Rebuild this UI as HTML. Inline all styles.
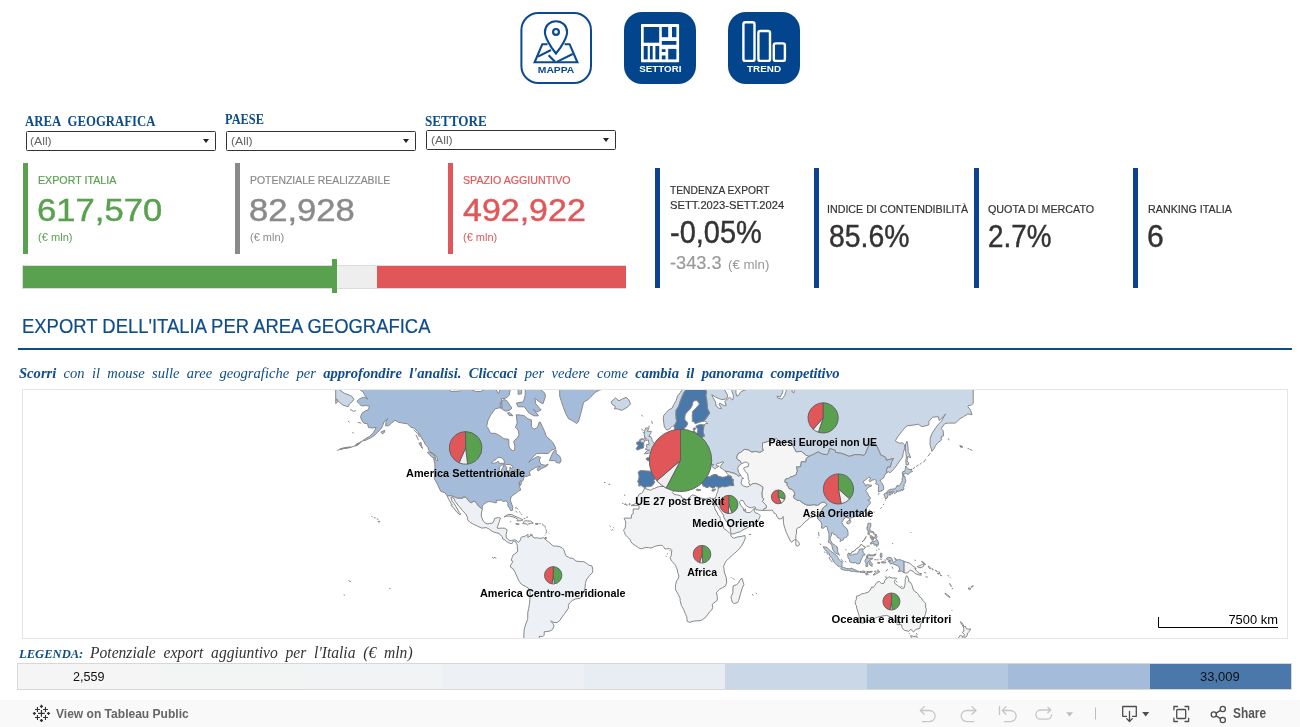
<!DOCTYPE html>
<html lang="it">
<head>
<meta charset="utf-8">
<title>Export dell'Italia per area geografica</title>
<style>
html,body{margin:0;padding:0;background:#fff;}
body{width:1300px;height:727px;overflow:hidden;position:relative;font-family:'Liberation Sans',Arial,sans-serif;}
#page{position:absolute;left:0;top:0;width:1300px;height:727px;overflow:hidden;background:#fff;}
.abs{position:absolute;}
.tx{position:absolute;z-index:5;white-space:nowrap;transform-origin:0 50%;display:block;margin:0;padding:0;}
.tx b{font-weight:bold;}
.navbtn{position:absolute;top:12px;width:72px;height:72px;}
.sel{position:absolute;width:188px;height:18px;border:1px solid #333;border-radius:1.5px;background:#fff;}
.sel i{position:absolute;right:6px;top:7px;width:0;height:0;border-left:3.5px solid transparent;border-right:3.5px solid transparent;border-top:4px solid #222;}
.vbar{position:absolute;width:5px;}
.prog{position:absolute;left:22px;top:265px;width:604px;height:24px;background:#eeeeee;box-sizing:border-box;border:1px solid #dcdcdc;}
.rule{position:absolute;left:18px;top:348px;width:1274px;height:2px;background:#0f4c8b;}
.mapbox{position:absolute;left:22px;top:389px;width:1264px;height:248px;border:1px solid #e6e6e6;box-sizing:content-box;background:#fff;overflow:hidden;}
.mapsvg{position:absolute;left:0;top:0;}
.legend{position:absolute;left:17px;top:663px;width:1273px;height:25px;border:1px solid #d8d8d8;box-sizing:content-box;display:flex;}
.legend div{flex:1 1 0;height:25px;}
.toolbar{position:absolute;left:0;top:700px;width:1300px;height:27px;background:#f9f9f9;}
</style>
</head>
<body>
<div id="page">

<!-- navigation buttons -->
<nav>
<svg class="navbtn" style="left:520px" viewBox="0 0 72 72">
  <rect x="1.4" y="1" width="69.6" height="70" rx="17" ry="17" fill="#fff" stroke="#0b4a90" stroke-width="2"/>
  <g fill="none" stroke="#0b4a90" stroke-width="2.1" stroke-linejoin="miter">
    <path d="M27.5,32.2 H22.3 L14.6,50.3 H57.4 L49.6,32.2 H44.6"/>
    <path d="M18,44.6 L31,38 M28.6,43.3 L35,49.8 M36.8,49.9 L52.7,42"/>
    <path fill="#fff" d="M36,41.5 L31.6,35.6 C27.6,29.6 24.9,25 24.9,20.3 C24.9,13.7 29.8,9.2 36,9.2 C42.2,9.2 47.1,13.7 47.1,20.3 C47.1,25 44.4,29.6 40.4,35.6 Z"/>
    <circle cx="36" cy="19.9" r="2.9" stroke-width="2.2"/>
  </g>
  <text x="17.8" y="60.8" textLength="36.5" lengthAdjust="spacingAndGlyphs" font-family="'Liberation Sans',Arial,sans-serif" font-weight="bold" font-size="8.4" fill="#0b4a90">MAPPA</text>
</svg>
<svg class="navbtn" style="left:624px" viewBox="0 0 72 72">
  <rect x="0" y="0" width="72" height="72" rx="18" ry="18" fill="#03458c"/>
  <rect x="17" y="12" width="38.1" height="38.3" rx="1" fill="#fff"/>
  <g fill="#03458c">
    <rect x="19.7" y="15" width="15.5" height="15.7"/>
    <rect x="37.8" y="15" width="6.4" height="10.2"/>
    <rect x="48" y="15" width="4.4" height="10.2"/>
    <rect x="37.8" y="29" width="14.6" height="3.8"/>
    <rect x="19.7" y="34" width="4" height="13.4"/>
    <rect x="25.9" y="34" width="2.8" height="13.4"/>
    <rect x="31.4" y="34" width="3.8" height="13.4"/>
    <rect x="37.8" y="37.2" width="3.7" height="2.8"/>
    <rect x="37.8" y="43.5" width="3.7" height="3.9"/>
    <rect x="44.2" y="36.9" width="8.2" height="10.5"/>
  </g>
  <text x="15.3" y="60.3" textLength="42.1" lengthAdjust="spacingAndGlyphs" font-family="'Liberation Sans',Arial,sans-serif" font-weight="bold" font-size="9.3" fill="#fff">SETTORI</text>
</svg>
<svg class="navbtn" style="left:728px" viewBox="0 0 72 72">
  <rect x="0" y="0" width="72" height="72" rx="18" ry="18" fill="#03458c"/>
  <g fill="none" stroke="#fff" stroke-width="2.4">
    <rect x="15.4" y="10.3" width="11.1" height="38.6" rx="2"/>
    <rect x="30.4" y="19" width="11.6" height="29.9" rx="2"/>
    <rect x="45.8" y="31.4" width="11.1" height="17.5" rx="2"/>
  </g>
  <text x="19.1" y="60.4" textLength="33.9" lengthAdjust="spacingAndGlyphs" font-family="'Liberation Sans',Arial,sans-serif" font-weight="bold" font-size="9.2" fill="#fff">TREND</text>
</svg>
</nav>

<!-- filters -->
<div class="sel" style="left:26px;top:131px"><i></i></div>
<div class="sel" style="left:226px;top:131px"><i></i></div>
<div class="sel" style="left:426px;top:130px"><i></i></div>

<!-- KPI accent bars -->
<div class="vbar" style="left:23px;top:163px;height:91px;background:#59a14f"></div>
<div class="vbar" style="left:235px;top:163px;height:91px;background:#8a8a8a"></div>
<div class="vbar" style="left:448px;top:163px;height:91px;background:#e15759"></div>
<div class="vbar" style="left:655px;top:168px;height:120px;background:#0b4390"></div>
<div class="vbar" style="left:814px;top:168px;height:120px;background:#0b4390"></div>
<div class="vbar" style="left:974px;top:168px;height:120px;background:#0b4390"></div>
<div class="vbar" style="left:1133px;top:168px;height:120px;background:#0b4390"></div>

<!-- progress bar -->
<div class="prog">
  <div class="abs" style="left:0;top:0;width:311px;height:22px;background:#59a14f"></div>
  <div class="abs" style="left:354px;top:0;width:248.5px;height:22px;background:#e15759"></div>
</div>
<div class="abs" style="left:332px;top:259px;width:5px;height:34px;background:#59a14f"></div>

<div class="rule"></div>

<span class="tx" style="left:25.30px;top:113.0px;font-family:'Liberation Serif', 'Times New Roman', serif;font-size:13.70px;line-height:17px;transform:scaleX(0.9326);font-weight:bold;color:#0f4c8b">AREA&nbsp; GEOGRAFICA</span>
<span class="tx" style="left:225.40px;top:111.0px;font-family:'Liberation Serif', 'Times New Roman', serif;font-size:13.70px;line-height:17px;transform:scaleX(0.9047);font-weight:bold;color:#0f4c8b">PAESE</span>
<span class="tx" style="left:425.10px;top:113.0px;font-family:'Liberation Serif', 'Times New Roman', serif;font-size:13.70px;line-height:17px;transform:scaleX(0.9595);font-weight:bold;color:#0f4c8b">SETTORE</span>
<span class="tx" style="left:30.30px;top:134.0px;font-family:'Liberation Sans', Arial, sans-serif;font-size:11.00px;line-height:14px;transform:scaleX(1.1093);color:#666">(All)</span>
<span class="tx" style="left:230.60px;top:134.0px;font-family:'Liberation Sans', Arial, sans-serif;font-size:11.00px;line-height:14px;transform:scaleX(1.1093);color:#666">(All)</span>
<span class="tx" style="left:430.60px;top:133.0px;font-family:'Liberation Sans', Arial, sans-serif;font-size:11.00px;line-height:14px;transform:scaleX(1.1093);color:#666">(All)</span>
<span class="tx" style="left:37.60px;top:172.5px;font-family:'Liberation Sans', Arial, sans-serif;font-size:11.60px;line-height:14px;transform:scaleX(0.9205);-webkit-text-stroke:0.2px;color:#59a14f">EXPORT ITALIA</span>
<span class="tx" style="left:36.80px;top:191.0px;font-family:'Liberation Sans', Arial, sans-serif;font-size:31.30px;line-height:39px;transform:scaleX(1.1069);-webkit-text-stroke:0.45px;color:#59a14f">617,570</span>
<span class="tx" style="left:37.60px;top:230.0px;font-family:'Liberation Sans', Arial, sans-serif;font-size:11.00px;line-height:14px;transform:scaleX(1.0078);color:#59a14f">(€ mln)</span>
<span class="tx" style="left:249.60px;top:172.5px;font-family:'Liberation Sans', Arial, sans-serif;font-size:11.60px;line-height:14px;transform:scaleX(0.8992);-webkit-text-stroke:0.2px;color:#8a8a8a">POTENZIALE REALIZZABILE</span>
<span class="tx" style="left:249.40px;top:191.0px;font-family:'Liberation Sans', Arial, sans-serif;font-size:31.30px;line-height:39px;transform:scaleX(1.1057);-webkit-text-stroke:0.45px;color:#8a8a8a">82,928</span>
<span class="tx" style="left:249.60px;top:230.0px;font-family:'Liberation Sans', Arial, sans-serif;font-size:11.00px;line-height:14px;transform:scaleX(0.9990);color:#8a8a8a">(€ mln)</span>
<span class="tx" style="left:462.50px;top:172.5px;font-family:'Liberation Sans', Arial, sans-serif;font-size:11.60px;line-height:14px;transform:scaleX(0.9194);-webkit-text-stroke:0.2px;color:#e15759">SPAZIO AGGIUNTIVO</span>
<span class="tx" style="left:462.50px;top:191.0px;font-family:'Liberation Sans', Arial, sans-serif;font-size:31.30px;line-height:39px;transform:scaleX(1.0854);-webkit-text-stroke:0.45px;color:#e15759">492,922</span>
<span class="tx" style="left:462.50px;top:230.0px;font-family:'Liberation Sans', Arial, sans-serif;font-size:11.00px;line-height:14px;transform:scaleX(0.9990);color:#e15759">(€ mln)</span>
<span class="tx" style="left:669.80px;top:182.5px;font-family:'Liberation Sans', Arial, sans-serif;font-size:11.80px;line-height:15px;transform:scaleX(0.8690);-webkit-text-stroke:0.2px;color:#333333">TENDENZA EXPORT</span>
<span class="tx" style="left:669.80px;top:197.5px;font-family:'Liberation Sans', Arial, sans-serif;font-size:11.80px;line-height:15px;transform:scaleX(0.9465);-webkit-text-stroke:0.2px;color:#333333">SETT.2023-SETT.2024</span>
<span class="tx" style="left:669.60px;top:212.0px;font-family:'Liberation Sans', Arial, sans-serif;font-size:32.00px;line-height:40px;transform:scaleX(0.9056);-webkit-text-stroke:0.45px;color:#333333">-0,05%</span>
<span class="tx" style="left:670.30px;top:251.0px;font-family:'Liberation Sans', Arial, sans-serif;font-size:18.50px;line-height:23px;transform:scaleX(0.9815);-webkit-text-stroke:0.2px;color:#999">-343.3</span>
<span class="tx" style="left:728.10px;top:256.5px;font-family:'Liberation Sans', Arial, sans-serif;font-size:13.00px;line-height:16px;transform:scaleX(1.0231);color:#999">(€ mln)</span>
<span class="tx" style="left:827.00px;top:201.5px;font-family:'Liberation Sans', Arial, sans-serif;font-size:11.80px;line-height:15px;transform:scaleX(0.9052);-webkit-text-stroke:0.2px;color:#333333">INDICE DI CONTENDIBILITÀ</span>
<span class="tx" style="left:829.10px;top:217.0px;font-family:'Liberation Sans', Arial, sans-serif;font-size:31.30px;line-height:39px;transform:scaleX(0.9063);-webkit-text-stroke:0.45px;color:#333333">85.6%</span>
<span class="tx" style="left:988.30px;top:201.5px;font-family:'Liberation Sans', Arial, sans-serif;font-size:11.80px;line-height:15px;transform:scaleX(0.9094);-webkit-text-stroke:0.2px;color:#333333">QUOTA DI MERCATO</span>
<span class="tx" style="left:988.00px;top:217.0px;font-family:'Liberation Sans', Arial, sans-serif;font-size:31.30px;line-height:39px;transform:scaleX(0.8890);-webkit-text-stroke:0.45px;color:#333333">2.7%</span>
<span class="tx" style="left:1147.70px;top:201.5px;font-family:'Liberation Sans', Arial, sans-serif;font-size:11.80px;line-height:15px;transform:scaleX(0.9087);-webkit-text-stroke:0.2px;color:#333333">RANKING ITALIA</span>
<span class="tx" style="left:1147.10px;top:217.0px;font-family:'Liberation Sans', Arial, sans-serif;font-size:31.30px;line-height:39px;transform:scaleX(0.9606);-webkit-text-stroke:0.45px;color:#333333">6</span>
<span class="tx" style="left:21.80px;top:312.5px;font-family:'Liberation Sans', Arial, sans-serif;font-size:20.80px;line-height:26px;transform:scaleX(0.8870);-webkit-text-stroke:0.2px;color:#0f4c8b">EXPORT DELL'ITALIA PER AREA GEOGRAFICA</span>
<span class="tx" style="left:18.50px;top:363.0px;font-family:'Liberation Serif', 'Times New Roman', serif;font-size:15.40px;line-height:19px;transform:scaleX(0.9481);font-style:italic;color:#0f4c8b"><b>Scorri</b>&nbsp; con&nbsp; il&nbsp; mouse&nbsp; sulle&nbsp; aree&nbsp; geografiche&nbsp; per&nbsp; <b>approfondire&nbsp; l'analisi.&nbsp; Cliccaci</b>&nbsp; per&nbsp; vedere&nbsp; come&nbsp; <b>cambia&nbsp; il&nbsp; panorama&nbsp; competitivo</b></span>
<span class="tx" style="left:18.50px;top:645.5px;font-family:'Liberation Serif', 'Times New Roman', serif;font-size:13.20px;line-height:16px;transform:scaleX(0.9539);font-style:italic;font-weight:bold;color:#0f4c8b">LEGENDA:</span>
<span class="tx" style="left:89.50px;top:642.5px;font-family:'Liberation Serif', 'Times New Roman', serif;font-size:16.00px;line-height:20px;transform:scaleX(0.9735);font-style:italic;color:#333">Potenziale&nbsp; export&nbsp; aggiuntivo&nbsp; per&nbsp; l'Italia&nbsp; (€&nbsp; mln)</span>
<span class="tx" style="left:73.30px;top:668.5px;font-family:'Liberation Sans', Arial, sans-serif;font-size:12.80px;line-height:16px;transform:scaleX(0.9834);color:#111">2,559</span>
<span class="tx" style="left:1200.00px;top:668.5px;font-family:'Liberation Sans', Arial, sans-serif;font-size:12.80px;line-height:16px;transform:scaleX(1.0160);color:#111">33,009</span>
<span class="tx" style="left:55.70px;top:705.5px;font-family:'Liberation Sans', Arial, sans-serif;font-size:13.20px;line-height:16px;transform:scaleX(0.9130);color:#666;font-weight:bold;-webkit-text-stroke:0">View on Tableau Public</span>
<span class="tx" style="left:1233.00px;top:705.0px;font-family:'Liberation Sans', Arial, sans-serif;font-size:13.80px;line-height:17px;transform:scaleX(0.8603);color:#555;font-weight:bold">Share</span>

<!-- map -->
<div class="mapbox">
<svg class="mapsvg" width="1264" height="248" viewBox="23 390 1264 248">
<g stroke="#888888" stroke-width="1" stroke-linejoin="round">
<path fill="#cad7e7" d="M704.0,424.9 705.8,423.5 707.9,423.5 706.7,422.4 704.9,421.0 703.7,421.3 705.8,418.8 709.7,413.1 707.6,408.8 707.2,404.7 706.7,399.6 705.8,395.2 706.7,392.0 704.9,388.2 704.9,383.2 709.3,381.7 712.9,383.7 718.2,385.2 724.8,390.1 727.6,395.2 727.1,397.9 725.3,399.2 721.7,399.6 718.2,398.3 715.5,397.0 711.8,394.7 712.9,397.4 715.5,401.8 716.1,406.0 719.1,408.4 721.7,408.4 719.1,404.7 719.6,403.1 721.7,404.3 724.4,405.6 726.2,405.6 724.9,401.4 727.1,399.2 729.7,397.4 731.5,398.8 732.7,400.1 733.3,397.4 733.3,395.2 732.0,391.5 731.1,387.7 734.1,388.2 735.9,390.6 735.9,392.9 736.8,396.1 738.9,395.2 740.3,392.4 743.0,390.6 751.8,387.7 760.7,380.7 831.5,357.7 973.2,369.8 973.2,403.5 970.5,405.6 968.8,405.1 967.9,406.8 970.5,410.0 972.0,414.7 967.9,413.9 963.5,416.6 959.0,419.5 955.5,423.1 948.4,423.1 944.9,423.5 941.3,428.3 943.1,430.7 943.6,435.9 941.3,436.5 941.3,440.2 937.8,442.7 935.5,445.6 934.2,448.5 931.9,451.4 931.6,450.0 930.0,444.2 930.2,438.1 932.1,433.3 934.2,430.0 937.8,424.9 941.3,421.3 944.0,416.6 945.7,413.9 942.2,417.7 939.2,420.6 938.3,416.6 932.5,417.3 928.9,421.3 928.9,424.9 925.4,425.9 921.8,426.6 918.3,424.2 913.0,425.2 908.0,425.6 905.9,426.6 902.4,430.7 897.9,436.5 895.3,440.8 897.0,442.1 899.7,443.3 902.4,442.7 904.5,444.7 904.8,448.0 903.2,452.8 902.7,456.9 899.7,460.9 897.0,464.8 894.4,468.5 890.0,472.7 888.2,471.7 885.7,473.6 886.8,472.2 886.4,469.8 887.8,466.8 890.3,467.0 891.7,461.4 893.5,458.5 890.0,459.3 886.4,460.4 885.5,457.2 880.2,454.7 880.2,453.6 876.7,445.6 873.1,444.2 869.6,444.7 868.2,447.1 866.9,450.0 865.2,454.2 863.1,455.5 861.1,454.7 854.6,454.7 849.2,456.4 843.9,454.2 840.4,453.1 835.6,452.5 835.4,450.5 829.6,448.3 828.5,452.8 827.1,454.7 822.7,454.2 817.9,451.9 813.8,454.2 809.0,456.4 805.9,455.3 801.4,451.4 796.1,451.9 792.4,444.7 789.9,441.8 784.6,443.0 780.2,442.1 776.6,438.7 771.3,440.5 766.0,442.1 762.5,443.0 762.5,447.7 763.4,450.5 759.8,452.5 755.4,451.4 751.8,452.2 748.3,450.0 744.4,449.4 740.7,452.5 738.6,453.1 737.0,456.1 736.8,458.2 737.7,459.6 740.3,460.9 741.6,463.7 741.2,464.2 738.6,466.0 737.7,468.5 738.6,472.2 740.5,475.1 738.6,476.3 736.8,474.8 734.1,473.2 731.5,472.7 728.8,471.7 725.3,471.2 724.8,471.0 722.6,469.0 720.7,468.0 720.0,466.5 721.2,465.5 722.1,463.7 724.0,462.2 722.1,461.9 719.6,463.0 717.0,463.5 716.4,464.2 716.4,465.5 719.1,466.3 717.1,467.3 714.7,468.8 713.8,468.3 712.0,466.3 713.9,464.5 712.0,464.5 710.2,463.2 708.8,463.5 707.0,466.8 704.4,466.0 704.2,462.4 703.1,460.9 701.6,458.8 698.5,460.4 695.0,459.6 693.8,458.5 694.5,456.6 694.6,455.5 697.1,451.7 696.2,448.3 696.8,446.5 696.1,443.0 699.6,441.8 700.1,439.9 701.9,438.7 701.6,437.4 704.4,436.2 703.5,433.3 703.1,431.6ZM335.7,403.5 337.5,402.2 336.6,398.8 338.4,401.4 342.8,405.1 348.1,406.8 349.5,403.9 352.5,401.4 353.9,399.2 351.6,396.1 348.1,394.7 344.6,393.4 339.2,389.6 335.7,386.7 335.7,369.8ZM907.1,441.4 908.0,447.1 908.2,451.4 910.7,457.7 907.7,456.4 907.0,460.9 908.6,462.7 908.4,464.8 906.1,465.0 905.9,460.9 906.3,456.9 905.9,452.8 905.4,448.5 905.5,444.2ZM674.1,426.3 673.0,425.6 671.3,427.3 668.6,429.7 666.8,430.0 664.4,426.9 663.7,422.4 663.3,417.7 663.7,415.4 666.0,412.8 668.6,410.0 672.2,408.0 673.9,404.3 676.2,400.5 677.5,396.1 680.1,392.9 682.8,388.2 688.1,380.7 698.7,374.3 709.3,379.1 705.8,384.7 704.9,383.2 699.6,385.7 691.6,384.7 689.9,385.7 686.3,389.1 683.7,392.9 681.9,397.0 680.1,401.8 678.4,406.8 676.1,410.0 675.9,413.9 676.2,418.4 676.6,421.3 675.3,423.8ZM644.4,453.9 648.3,453.3 651.3,452.2 655.0,451.9 656.9,450.8 655.9,450.0 657.5,446.8 655.0,445.6 654.6,443.9 652.3,440.8 651.6,438.1 650.7,436.5 648.8,436.5 650.7,433.3 651.3,431.3 647.7,431.3 647.2,431.3 649.0,428.0 645.6,428.0 644.5,431.6 644.2,434.6 644.7,437.7 644.4,438.7 646.0,437.7 645.6,440.5 648.3,439.9 648.8,442.7 649.1,444.5 646.5,444.7 646.3,446.2 647.2,447.4 645.2,449.1 648.8,450.3 649.7,450.0 647.0,450.8ZM611.1,401.8 615.5,397.9 619.0,400.9 622.6,398.8 626.1,397.4 628.8,399.6 630.5,403.9 627.9,406.8 621.7,410.4 617.3,408.8 614.3,408.8 615.5,406.4 612.0,404.3Z"/>
<path fill="#f5f5f5" d="M741.6,463.7 744.8,462.2 746.5,462.2 748.7,463.5 748.3,466.5 745.1,467.3 743.5,468.3 744.6,470.3 745.3,471.7 747.4,473.4 747.9,475.1 748.1,476.7 748.3,479.3 749.4,481.1 748.7,482.7 749.9,485.2 750.1,485.4 752.7,483.8 755.7,483.4 759.5,485.0 762.8,487.0 762.6,489.8 761.8,493.0 762.3,497.9 763.9,498.9 762.3,501.4 765.5,504.6 766.5,506.6 766.4,507.8 763.9,508.6 763.5,510.5 766.9,510.3 769.6,510.3 772.2,510.1 773.1,511.3 774.0,513.1 775.2,513.6 776.3,514.4 776.6,516.1 778.9,519.0 782.1,518.6 782.5,517.3 783.0,516.3 783.4,518.2 783.4,522.4 784.2,526.1 785.1,528.9 786.4,532.5 787.8,535.6 789.4,538.9 790.6,541.4 791.7,542.3 792.9,540.8 794.5,540.1 795.9,538.3 795.8,535.3 796.6,533.3 796.3,529.8 797.4,528.1 800.2,526.9 802.3,524.8 805.0,521.8 807.6,520.1 808.5,518.6 810.3,517.5 812.1,517.3 814.7,516.1 816.5,515.8 817.0,516.1 817.9,519.0 817.9,518.1 818.4,516.7 819.5,516.1 819.7,513.8 821.3,511.9 822.1,510.0 823.0,508.0 824.8,506.4 826.7,505.4 826.9,504.4 824.8,502.2 821.8,502.4 817.4,505.4 813.8,504.6 811.7,505.0 810.5,505.2 806.7,505.0 803.2,503.2 799.7,500.5 797.9,500.5 795.2,498.9 793.8,497.9 793.5,495.8 794.9,495.4 794.3,492.0 792.2,489.4 789.0,488.5 788.0,486.3 787.1,485.4 787.3,482.7 785.1,482.5 785.0,480.4 785.5,479.1 788.5,478.4 790.4,477.0 793.1,476.3 796.5,474.4 796.5,472.2 797.5,471.7 796.8,468.0 796.3,467.0 800.5,466.8 800.7,466.0 801.4,461.7 805.9,461.9 806.2,458.5 809.0,456.4 805.9,455.3 801.4,451.4 796.1,451.9 792.4,444.7 789.9,441.8 784.6,443.0 780.2,442.1 776.6,438.7 771.3,440.5 766.0,442.1 762.5,443.0 762.5,447.7 763.4,450.5 759.8,452.5 755.4,451.4 751.8,452.2 748.3,450.0 744.4,449.4 740.7,452.5 738.6,453.1 737.0,456.1 736.8,458.2 737.7,459.6 740.3,460.9ZM795.8,539.2 798.2,541.6 799.5,543.7 799.1,545.3 797.2,546.2 796.1,545.7 795.8,543.3 795.8,541.6Z"/>
<path fill="#b4c8e0" d="M885.7,473.6 884.1,476.3 884.1,477.4 881.6,479.3 880.2,480.0 880.2,481.1 881.8,482.7 883.4,486.1 883.8,488.3 883.2,490.0 881.1,490.9 878.5,492.0 878.3,489.4 878.6,486.5 878.6,485.0 876.7,484.3 875.3,483.6 876.3,482.3 876.2,480.4 874.7,479.5 872.3,480.2 869.8,481.8 869.1,480.4 870.8,478.1 868.7,477.2 866.1,479.5 863.1,481.6 864.3,483.6 865.2,484.3 865.2,485.6 867.5,484.7 869.6,485.0 871.7,485.2 871.2,486.3 868.7,487.0 867.5,488.3 865.7,490.5 866.4,491.5 867.8,493.7 868.7,495.8 870.3,497.4 870.1,499.1 867.8,500.3 870.0,501.2 870.5,502.6 869.6,504.4 868.2,505.4 866.9,507.6 866.1,509.2 865.2,510.9 863.6,512.1 861.6,513.8 859.9,515.2 856.9,516.1 855.4,516.3 852.8,517.3 850.1,518.2 849.8,519.9 848.9,517.9 846.6,517.5 845.7,517.7 843.9,518.8 843.0,520.5 841.8,522.4 842.7,524.3 843.9,526.1 846.1,527.8 847.5,529.8 848.0,532.5 848.0,535.3 847.1,536.5 845.3,537.6 843.9,538.1 843.4,539.8 841.3,540.7 840.0,541.4 840.4,539.2 839.5,538.1 837.7,537.8 836.8,536.2 836.7,535.8 835.4,534.9 833.3,534.0 833.1,532.7 832.4,532.5 831.5,532.9 831.5,534.9 830.8,536.7 830.1,538.1 830.3,540.1 831.5,541.6 832.2,543.9 834.2,544.4 835.4,545.7 837.2,547.1 837.7,549.2 837.7,551.9 839.0,554.2 837.7,554.3 835.4,552.8 833.8,551.5 832.8,549.6 832.1,546.9 831.9,545.1 831.0,544.4 829.8,542.8 828.5,542.4 828.5,540.7 829.1,538.9 828.9,536.2 829.1,534.4 828.3,531.6 827.5,528.9 827.3,527.0 826.0,526.1 824.8,527.0 823.2,528.3 821.4,528.0 821.8,525.2 821.4,522.8 820.2,520.9 819.0,520.1 817.9,519.0 817.9,518.1 818.4,516.7 819.5,516.1 819.7,513.8 821.3,511.9 822.1,510.0 823.0,508.0 824.8,506.4 826.7,505.4 826.9,504.4 824.8,502.2 821.8,502.4 817.4,505.4 813.8,504.6 811.7,505.0 810.5,505.2 806.7,505.0 803.2,503.2 799.7,500.5 797.9,500.5 795.2,498.9 793.8,497.9 793.5,495.8 794.9,495.4 794.3,492.0 792.2,489.4 789.0,488.5 788.0,486.3 787.1,485.4 787.3,482.7 785.1,482.5 785.0,480.4 785.5,479.1 788.5,478.4 790.4,477.0 793.1,476.3 796.5,474.4 796.5,472.2 797.5,471.7 796.8,468.0 796.3,467.0 800.5,466.8 800.7,466.0 801.4,461.7 805.9,461.9 806.2,458.5 809.0,456.4 813.8,454.2 817.9,451.9 822.7,454.2 827.1,454.7 828.5,452.8 829.6,448.3 835.4,450.5 835.6,452.5 840.4,453.1 843.9,454.2 849.2,456.4 854.6,454.7 861.1,454.7 863.1,455.5 865.2,454.2 866.9,450.0 868.2,447.1 869.6,444.7 873.1,444.2 876.7,445.6 880.2,453.6 880.2,454.7 885.5,457.2 886.4,460.4 890.0,459.3 893.5,458.5 891.7,461.4 890.3,467.0 887.8,466.8 886.4,469.8 886.8,472.2ZM846.9,522.0 848.4,520.5 850.3,520.3 851.0,521.3 850.1,522.8 848.5,523.9 846.9,523.3ZM869.6,510.3 870.5,510.9 869.6,513.8 868.5,516.7 867.3,515.0 867.3,513.3 868.7,510.9ZM886.2,492.8 887.7,493.5 888.2,495.1 887.1,498.1 885.9,498.9 885.0,498.3 885.0,496.2 884.1,495.4 883.9,494.1 885.4,493.5ZM889.1,492.6 892.1,491.7 893.0,493.0 892.1,494.1 890.9,493.7 890.0,495.4 888.9,493.9ZM886.2,492.6 887.1,491.5 889.3,489.6 890.0,489.4 892.1,489.2 894.0,488.9 895.3,488.9 896.5,486.5 897.6,485.0 897.0,486.3 899.2,485.6 900.2,484.3 901.3,482.7 902.2,480.9 902.0,479.3 902.4,477.9 902.9,476.5 904.8,476.0 905.0,478.1 905.9,480.2 905.0,483.2 904.1,484.3 904.1,486.3 903.4,487.6 904.0,488.9 903.1,490.2 902.0,490.7 902.0,489.2 900.9,490.0 900.2,491.3 899.7,490.5 899.2,491.3 897.0,491.3 896.9,490.5 896.9,492.0 895.6,492.8 894.9,493.7 893.7,492.6 893.9,491.3 892.6,491.1 890.9,491.7 888.9,492.0 887.7,492.6ZM902.5,476.0 902.9,473.9 902.0,473.2 902.9,471.5 904.7,471.5 905.4,468.5 905.7,466.0 907.7,468.5 910.0,469.8 911.7,469.0 911.4,470.5 912.6,471.5 910.2,472.2 908.2,474.6 905.5,473.2 904.1,473.9 903.1,473.4 904.0,475.1 902.9,475.8ZM868.0,523.3 870.8,523.3 870.8,526.1 869.8,528.0 869.8,530.7 871.4,531.3 873.9,532.0 874.0,534.2 872.3,532.5 870.5,532.0 868.5,532.0 868.0,530.9 868.5,530.5 867.3,530.2 866.8,527.4 867.5,527.8 867.7,525.2ZM870.5,544.2 870.8,542.4 873.1,541.4 875.3,541.4 876.7,539.2 878.3,541.6 878.5,544.2 877.9,545.5 876.5,546.7 876.3,545.8 877.0,544.2 876.3,544.9 874.0,545.1 874.0,543.3 872.8,543.3ZM874.6,534.4 876.3,534.4 877.0,536.7 876.2,538.5 875.4,538.7 874.7,537.2 875.6,536.2ZM870.3,535.4 872.4,536.2 871.6,538.0 870.3,538.0ZM872.1,537.2 873.1,537.2 872.8,540.5 871.4,539.6ZM873.0,539.8 874.0,536.7 874.2,538.5ZM867.7,532.7 869.1,532.7 869.6,534.7 868.4,534.7ZM848.5,553.1 849.9,553.8 851.0,553.8 851.7,552.2 854.6,551.0 856.3,548.7 858.1,547.8 859.9,546.0 861.3,544.2 862.9,546.0 863.6,546.4 865.5,547.4 863.8,548.9 863.2,549.2 862.7,550.5 863.4,552.6 865.2,554.9 863.1,555.2 862.5,557.5 861.3,559.0 860.4,562.0 859.9,563.4 857.6,563.9 855.4,562.7 852.4,562.8 849.8,561.8 849.2,559.3 847.8,557.5 848.0,556.6 847.5,554.9ZM823.2,546.7 827.1,547.4 829.2,549.9 832.1,552.2 834.2,553.5 836.8,555.8 838.3,558.4 839.5,560.2 840.4,560.9 842.2,562.3 842.0,564.6 841.8,566.9 839.5,566.8 836.8,565.2 835.4,563.6 833.3,561.1 832.1,558.4 829.8,555.8 829.2,553.6 827.1,551.7 824.8,549.6ZM840.7,568.7 842.2,567.1 843.6,567.5 846.8,568.5 850.1,568.9 851.0,568.0 854.0,569.4 856.3,570.3 857.0,571.2 857.2,572.1 854.6,571.4 851.0,571.2 848.4,570.3 845.7,570.5 843.0,569.8ZM857.2,571.2 859.3,571.2 858.4,572.3ZM859.9,571.4 861.1,571.4 860.7,572.5 859.9,572.3ZM861.3,571.6 863.1,571.0 865.2,571.4 865.2,572.3 862.5,572.6 861.3,572.5ZM866.8,571.6 869.6,571.6 872.3,571.2 871.9,572.1 868.7,572.5 866.8,572.3ZM865.2,573.5 866.9,573.2 868.4,574.4 866.9,575.0 865.5,574.1ZM865.9,566.4 866.1,562.8 864.8,561.6 865.7,559.0 866.6,558.1 866.6,555.8 868.4,554.3 870.5,554.9 873.1,555.1 876.2,553.8 874.9,555.8 872.3,555.9 869.6,555.8 867.5,556.1 867.5,558.1 869.6,558.2 872.8,558.1 873.0,558.6 870.5,559.7 869.6,560.2 871.0,562.3 872.3,563.7 871.9,565.5 871.2,566.2 870.0,565.2 869.1,562.8 868.7,561.4 867.7,562.0 867.7,564.6 867.7,566.6ZM880.2,554.9 881.1,552.8 882.2,554.0 881.1,555.4 882.4,556.1 881.1,557.0 881.6,558.2 880.6,557.2 880.2,555.8ZM881.1,562.0 883.8,561.6 886.1,562.5 884.7,563.0 881.5,562.8ZM877.6,562.3 879.7,562.3 879.7,563.4 877.9,563.4ZM904.1,561.3 901.5,560.2 898.8,559.5 896.2,560.5 893.5,562.5 892.6,561.1 891.7,558.1 889.1,557.4 886.8,558.1 886.4,559.1 888.2,560.2 890.9,560.7 888.2,561.6 889.6,562.0 890.0,563.7 892.6,563.7 895.3,564.8 898.8,566.4 899.7,569.1 898.3,571.6 901.5,571.0 904.1,572.8Z"/>
<path fill="#e8edf3" d="M715.0,498.3 715.9,496.8 716.4,494.7 717.3,492.8 717.8,491.3 718.0,489.4 718.2,488.5 719.4,487.6 721.7,486.5 725.3,486.7 729.4,485.6 733.8,485.6 733.3,483.2 732.7,480.7 733.8,480.0 731.7,478.8 731.5,476.7 730.2,476.0 727.9,475.8 728.3,474.8 727.1,473.4 725.3,471.2 728.8,471.7 731.5,472.7 734.1,473.2 736.8,474.8 738.6,476.3 740.5,475.1 741.2,476.3 742.1,477.7 743.7,478.4 742.1,478.6 741.6,480.9 741.0,482.9 742.1,485.0 743.9,486.1 746.5,487.0 749.2,486.3 750.1,485.4 752.7,483.8 755.7,483.4 759.5,485.0 762.8,487.0 762.6,489.8 761.8,493.0 762.3,497.9 763.9,498.9 762.3,501.4 765.5,504.6 766.5,506.6 766.4,507.8 763.9,508.6 763.5,510.5 758.9,510.1 755.9,509.8 755.4,507.2 754.3,506.8 751.3,507.8 748.3,507.0 745.6,505.2 744.4,503.0 743.0,500.5 741.0,500.3 740.3,501.0 739.4,502.0 740.2,503.8 740.9,505.6 743.2,507.8 743.5,510.0 744.4,511.3 745.1,508.8 745.8,510.9 745.6,512.1 747.4,512.5 750.1,512.5 750.8,511.9 752.4,510.3 753.8,508.8 754.3,508.2 754.3,510.9 755.4,512.9 758.2,513.6 760.3,515.8 758.6,519.6 756.8,522.4 755.9,522.6 754.5,524.3 752.2,525.2 750.1,526.1 746.9,528.0 743.0,529.8 740.7,531.6 736.8,532.7 734.1,533.8 731.5,534.0 730.9,532.9 730.4,530.2 730.1,527.2 728.8,524.8 727.1,522.4 725.3,519.9 723.9,517.7 723.5,515.2 721.7,512.7 720.3,510.5 719.1,508.6 717.3,506.0 715.7,504.8 716.4,502.0 716.3,502.0Z"/>
<path fill="#f1f3f4" d="M644.0,488.7 645.1,488.5 649.1,489.8 650.6,490.2 652.7,488.9 654.5,488.5 657.1,487.2 659.8,486.5 663.3,486.5 666.8,486.1 669.7,486.3 671.8,485.4 673.9,486.1 673.0,487.4 673.2,489.2 673.9,490.9 672.3,492.6 673.9,494.3 676.6,494.9 677.8,494.9 681.4,496.2 681.9,497.9 685.4,499.1 688.1,500.3 689.9,498.9 689.9,496.8 692.5,494.9 695.2,495.6 698.7,497.7 702.3,498.3 705.8,499.1 707.6,498.5 709.3,497.9 711.6,498.3 715.0,498.3 716.3,502.0 715.4,505.0 715.2,505.4 713.9,504.0 712.2,501.2 712.0,502.0 713.8,505.4 714.3,506.6 715.5,510.0 717.3,512.9 717.7,514.8 719.8,516.7 720.3,518.6 720.3,521.3 722.6,524.3 724.0,528.7 727.1,530.7 729.7,533.4 731.1,534.4 730.8,536.0 733.3,538.1 734.1,538.1 737.7,536.9 741.2,536.5 744.9,535.4 745.3,538.1 743.9,541.6 742.1,545.1 739.4,548.7 735.9,552.2 734.7,553.1 731.5,555.8 728.8,558.4 727.1,560.2 725.6,561.6 724.8,563.7 723.5,566.4 724.0,568.7 724.2,571.7 725.3,575.0 726.3,578.0 726.7,582.6 725.5,585.9 722.6,587.7 719.8,589.0 716.4,592.4 717.3,596.6 717.3,600.4 713.8,603.0 712.2,604.3 712.7,607.3 711.8,609.9 709.3,612.1 707.6,614.8 704.9,617.9 702.3,619.8 700.0,620.7 696.1,620.9 693.4,621.1 689.9,622.4 687.2,621.3 686.9,618.6 686.7,616.5 685.1,613.4 683.7,609.5 681.4,605.5 680.1,600.4 680.1,598.3 678.2,594.3 675.7,590.0 675.3,587.6 675.7,584.4 676.6,580.8 678.2,578.9 678.9,576.2 677.8,572.6 677.1,569.1 676.2,567.3 675.7,565.5 674.3,563.7 671.6,561.1 670.0,557.9 671.3,555.8 671.4,553.1 671.8,550.5 671.3,549.6 669.5,548.5 666.8,548.9 665.1,549.0 663.3,546.4 662.4,545.5 660.5,545.3 657.1,545.7 654.5,546.5 650.9,548.1 648.3,547.6 645.6,547.4 641.2,548.9 638.5,547.8 635.3,545.5 632.3,543.5 630.9,541.6 630.2,539.8 627.9,537.4 625.2,534.7 624.7,532.5 623.5,530.3 625.2,528.0 625.6,524.3 625.8,522.0 625.2,520.5 624.2,518.8 624.3,518.1 631.4,518.1 631.4,514.8 633.2,513.8 633.2,509.0 639.0,509.0 639.0,505.6 631.1,505.6 631.6,505.2 634.1,504.4 636.4,502.6 637.3,500.1 637.1,497.9 639.4,494.1 641.0,493.5 642.4,492.6 643.8,490.0ZM741.8,578.0 743.9,584.4 742.6,587.2 741.9,589.0 740.3,594.7 738.6,600.4 737.7,602.4 734.5,603.5 732.4,602.4 731.5,599.5 731.1,596.6 732.9,592.8 732.9,589.0 733.3,585.7 736.4,584.8 738.6,583.0 739.4,580.8ZM624.5,504.2 625.9,503.8 625.2,505.0ZM626.5,504.8 627.2,504.8 627.2,505.4 626.5,505.4ZM629.3,503.6 630.0,503.6 629.8,504.8 629.0,504.8ZM622.6,503.4 623.1,503.4 622.9,504.0Z"/>
<path fill="#4a78ab" d="M704.0,424.9 703.1,431.6 703.5,433.3 704.4,436.2 701.6,437.4 701.9,438.7 700.1,439.9 699.6,441.8 696.1,443.0 696.8,446.5 696.2,448.3 697.1,451.7 694.6,455.5 694.5,456.6 693.8,458.5 695.0,459.6 698.5,460.4 701.6,458.8 703.1,460.9 704.2,462.4 704.4,466.0 707.0,466.8 705.3,469.8 705.1,471.0 703.9,472.7 704.0,474.6 701.2,475.3 701.0,477.2 698.9,477.2 697.7,477.7 696.9,479.3 695.2,478.6 694.5,479.3 695.7,481.4 695.2,481.8 696.9,483.8 695.5,484.1 695.5,485.4 694.8,487.2 694.1,487.4 692.9,486.5 692.0,484.3 692.9,483.2 691.1,481.8 690.2,480.2 689.9,480.0 688.6,478.4 689.0,476.3 688.6,474.8 687.2,473.6 684.6,472.0 682.8,471.0 681.4,469.5 680.7,467.3 679.9,466.5 679.1,467.8 678.5,465.8 676.2,466.3 676.2,469.0 678.4,470.7 679.6,473.4 682.8,474.8 682.8,476.0 684.6,477.0 687.2,479.1 686.9,479.8 684.6,478.1 683.8,480.0 684.9,481.6 683.7,482.9 682.3,484.1 682.6,482.3 683.0,480.9 682.1,479.3 680.7,477.9 679.6,477.4 677.5,476.5 676.1,475.1 674.1,473.6 673.0,472.2 672.7,470.7 671.8,469.5 670.2,468.8 667.7,470.3 666.8,471.0 665.4,472.0 663.3,471.2 661.5,471.0 659.9,472.0 659.9,473.6 660.1,474.8 658.3,476.0 655.9,477.4 653.9,480.4 654.8,482.0 653.2,484.7 650.9,486.5 646.7,486.7 644.9,488.1 643.3,487.0 641.3,485.6 638.7,486.1 638.9,482.9 637.6,482.0 638.7,478.8 639.0,476.5 638.7,474.6 638.0,472.2 640.3,470.5 644.2,470.7 647.7,471.0 651.3,471.2 652.1,468.3 652.5,465.8 652.3,464.2 650.6,461.7 646.8,460.1 646.0,458.5 648.3,457.4 651.6,458.0 651.1,455.0 652.5,455.8 654.6,455.5 657.1,453.6 657.3,451.7 658.9,451.1 660.5,450.3 661.5,448.5 662.8,445.9 664.2,444.7 666.8,444.5 668.6,443.6 669.7,443.0 670.2,441.4 669.7,439.6 668.8,437.7 668.8,434.6 669.7,433.0 673.2,431.0 672.5,434.9 673.8,435.5 672.5,437.1 671.6,438.1 671.3,439.6 672.2,440.2 672.2,441.4 673.9,442.7 674.3,441.4 675.9,442.4 676.6,441.4 678.5,440.8 679.8,443.0 682.8,441.8 686.9,440.2 687.6,441.4 689.2,441.3 689.9,439.9 691.6,438.7 691.6,436.2 691.6,433.3 692.9,431.3 694.5,430.8 695.5,433.3 697.1,433.1 697.7,430.7 697.8,428.6 696.1,427.6 696.1,425.9 698.4,424.9 700.5,424.5ZM674.1,426.3 674.5,429.0 675.5,431.0 676.6,434.9 677.1,437.4 677.5,438.4 679.6,438.4 680.1,436.5 682.4,435.9 683.5,433.9 684.0,430.7 684.4,428.0 686.3,426.6 687.7,423.8 687.4,422.4 684.9,420.2 684.9,416.9 685.4,414.3 687.2,412.0 690.4,408.8 692.2,405.6 692.9,402.6 693.8,400.9 697.1,400.5 699.4,403.9 697.8,406.0 695.2,408.8 692.5,411.6 692.2,415.8 692.3,419.5 692.2,421.3 693.8,421.7 695.2,423.8 698.7,422.4 701.4,421.7 703.7,421.3 705.8,418.8 709.7,413.1 707.6,408.8 707.2,404.7 706.7,399.6 705.8,395.2 706.7,392.0 704.9,388.2 704.9,383.2 699.6,385.7 691.6,384.7 689.9,385.7 686.3,389.1 683.7,392.9 681.9,397.0 680.1,401.8 678.4,406.8 676.1,410.0 675.9,413.9 676.2,418.4 676.6,421.3 675.3,423.8ZM643.5,448.0 643.8,444.7 643.6,442.7 644.7,441.1 643.5,439.0 641.5,438.7 639.4,439.9 639.2,441.8 636.7,442.1 636.9,444.5 638.5,445.3 637.3,447.1 636.2,448.3 636.7,449.7 637.6,450.0 639.8,449.1 642.1,448.3ZM676.4,483.8 678.0,483.4 682.1,483.2 681.2,485.4 681.2,486.7 679.8,486.5 676.6,484.7ZM669.0,477.0 671.6,476.5 671.8,479.3 671.3,481.4 669.3,481.6 669.3,478.6ZM669.7,473.6 671.1,472.2 671.3,474.6 670.7,476.0 669.9,475.3ZM696.1,489.8 697.3,489.2 700.1,489.8 701.0,490.0 698.7,490.7 696.2,490.0ZM711.6,490.5 712.9,489.6 715.7,488.9 714.7,490.5 712.9,491.3ZM658.5,480.2 659.9,479.4 660.6,480.0 659.8,480.9ZM693.1,429.0 694.3,427.8 695.7,428.3 694.8,430.0 693.4,430.0ZM686.5,432.6 687.7,430.2 688.3,430.7 687.6,433.0ZM673.8,437.4 675.7,436.2 676.8,437.4 676.1,439.6 674.3,439.6 673.4,438.7 671.8,438.7 672.7,437.7ZM704.0,474.6 706.0,476.5 709.7,476.7 713.4,474.6 716.8,474.6 718.7,476.3 722.4,477.2 724.8,477.0 727.9,475.8 730.2,476.0 731.5,476.7 731.7,478.8 733.8,480.0 732.7,480.7 733.3,483.2 733.8,485.6 729.4,485.6 725.3,486.7 721.7,486.5 719.4,487.6 718.2,488.5 718.6,487.0 717.3,487.0 715.7,486.5 714.1,487.8 712.5,488.3 711.1,487.2 708.8,486.3 708.3,487.6 706.0,487.4 704.4,486.5 703.0,486.1 702.6,484.5 701.0,483.2 702.1,482.7 701.7,480.9 700.7,480.4 700.8,479.3 700.5,477.9 701.0,477.2 701.2,475.3Z"/>
<path fill="#cad7e7" d="M687.2,473.6 688.6,474.8 689.0,476.3 688.6,478.4 689.9,480.0 691.1,478.6 691.6,477.4 695.0,476.3 694.1,473.9 694.3,472.2 694.5,469.3 692.3,467.8 690.4,464.5 687.9,465.0 688.8,466.8 688.1,467.5 684.6,466.8 682.4,466.8 682.4,468.3 683.7,470.0 685.4,472.2ZM665.1,464.2 666.8,461.1 667.9,460.6 669.7,460.1 671.4,460.9 671.3,461.9 672.9,462.4 672.3,464.0 670.4,465.3 669.3,464.0 666.8,465.0 666.5,463.7ZM644.7,441.1 643.5,439.0 641.5,439.3 640.1,441.1 641.5,442.4 643.6,442.7Z"/>
<path fill="#f3f4f4" d="M856.5,596.2 856.3,599.5 855.3,601.4 855.4,604.3 856.3,605.3 856.7,607.9 858.1,612.3 859.3,616.5 858.1,619.6 858.3,621.6 860.7,622.8 863.4,623.1 866.9,620.7 870.3,620.5 874.0,618.6 877.6,617.1 882.9,615.9 886.8,615.4 890.0,616.9 892.1,618.2 895.1,622.2 896.2,620.7 898.5,617.5 897.9,620.7 897.0,623.3 899.0,621.3 899.7,622.8 899.0,624.4 901.5,624.8 902.0,627.2 903.2,629.5 905.0,630.4 908.6,631.3 911.0,629.2 912.1,630.8 913.7,631.9 915.6,629.5 919.9,628.3 920.4,625.0 921.5,622.4 922.4,620.3 924.0,617.5 925.4,614.4 926.4,609.5 925.6,607.1 925.7,603.3 925.0,602.8 922.7,600.4 921.5,598.1 919.2,596.6 918.7,594.7 917.1,592.8 914.4,591.3 913.0,589.0 912.6,587.0 911.6,584.4 910.3,582.0 908.7,581.7 908.6,578.9 907.3,576.2 906.8,575.7 905.9,577.1 905.2,579.5 905.2,582.6 904.8,585.3 904.0,588.1 901.5,588.3 898.8,586.3 897.0,585.0 894.9,583.5 894.4,581.7 895.3,579.9 896.9,578.4 895.3,578.0 892.6,578.0 890.0,577.3 889.1,576.6 887.3,578.4 886.1,578.8 884.7,580.8 883.9,583.3 881.3,583.5 879.7,581.7 879.2,581.3 876.7,582.6 874.9,585.3 873.3,587.6 871.9,586.8 870.8,589.0 868.7,592.0 864.5,593.4 861.6,593.9 859.0,595.6ZM910.7,635.6 913.9,636.6 916.9,635.9 917.1,638.7 916.2,641.6 913.9,642.6 912.1,639.9ZM960.3,621.6 962.6,623.5 964.0,626.8 965.2,626.1 966.5,628.8 968.8,629.2 970.5,628.8 969.7,631.0 967.7,632.9 967.0,635.9 964.7,637.7 963.8,637.0 964.5,634.5 962.2,632.4 963.8,631.3 963.8,628.3 962.9,626.1 960.8,622.8ZM960.3,635.2 963.1,636.8 962.6,638.5 960.4,642.3 956.4,648.5 949.3,648.5 952.8,643.5 957.8,638.7ZM904.1,561.3 906.8,562.3 910.3,563.4 912.6,565.9 914.8,567.3 916.2,568.5 914.8,568.5 916.5,570.9 919.2,573.5 921.5,575.0 919.2,575.0 915.1,573.5 913.0,571.2 910.3,570.3 908.6,571.4 907.7,573.0 904.1,572.8ZM917.1,566.6 920.1,565.5 922.7,564.1 924.1,564.1 923.6,566.4 921.0,567.6 918.3,567.6ZM921.5,561.3 924.5,563.0 925.6,565.0 924.7,564.1 921.8,561.8ZM928.2,566.0 929.8,567.1 930.5,568.7 929.3,568.4ZM944.9,593.0 947.5,594.7 950.2,597.2 949.1,597.2 946.3,595.1ZM931.8,568.5 933.4,569.6 932.8,570.1ZM935.1,570.1 937.4,571.6 936.5,571.4ZM937.1,573.2 939.2,573.9 938.3,574.1ZM939.0,571.6 940.1,573.5 939.5,573.4ZM940.1,574.8 941.9,575.7 941.0,575.7ZM949.5,583.5 950.5,584.4 950.0,584.8ZM950.5,585.3 951.6,586.3 950.9,586.4ZM952.1,588.1 952.8,588.7 952.3,588.7ZM968.4,587.9 970.7,588.3 970.4,589.4 968.6,589.2ZM970.9,586.8 973.2,585.7 972.8,586.6 971.4,587.2Z"/>
<path fill="#a4bcd9" d="M356.8,401.4 359.6,398.8 364.0,397.0 367.9,399.2 364.4,394.7 363.2,392.0 359.1,389.1 360.1,386.2 365.8,381.7 377.3,373.2 385.3,376.5 392.4,378.6 401.2,380.2 404.8,382.7 413.6,386.2 417.2,383.2 424.2,380.2 427.8,377.5 433.1,383.7 440.2,381.7 447.3,386.2 450.8,391.5 459.7,391.0 463.2,387.7 466.7,386.7 475.6,391.5 480.9,391.5 484.5,389.1 487.1,370.4 491.5,382.2 495.1,388.2 498.6,393.8 500.4,388.2 503.0,382.7 509.2,381.7 510.5,388.2 509.2,395.2 505.7,398.3 501.3,398.8 502.2,408.0 498.6,408.0 495.1,408.8 490.7,415.1 488.0,420.2 486.6,426.6 487.6,427.3 490.7,433.3 495.1,433.3 498.6,434.9 503.9,438.7 508.7,439.3 508.9,445.9 510.1,448.5 512.8,450.8 514.6,450.0 514.9,446.2 513.7,441.1 517.2,438.1 519.0,434.9 518.1,430.0 515.4,427.3 517.2,423.1 516.3,414.7 520.8,415.1 524.3,415.8 527.8,418.8 531.4,419.9 531.4,426.6 534.0,429.3 537.6,427.3 539.3,422.0 540.2,422.0 544.7,431.6 546.4,436.5 550.0,439.6 552.6,442.1 555.3,447.1 555.8,448.5 550.9,450.5 548.2,453.6 541.1,453.3 536.7,453.6 533.2,456.9 530.5,460.1 528.7,462.4 531.4,460.1 537.6,456.4 540.6,457.4 539.3,459.8 539.9,462.2 541.1,464.5 545.5,465.3 548.2,464.0 546.6,466.3 542.0,468.3 538.1,471.0 537.2,469.0 540.2,466.5 535.8,467.3 533.2,469.0 530.1,470.7 529.3,472.9 530.5,475.1 528.2,475.8 523.9,477.2 523.4,477.9 523.2,480.2 521.8,481.8 520.8,480.4 521.5,483.2 520.0,485.9 519.2,481.8 519.3,486.3 520.8,490.0 518.6,491.1 516.5,492.8 514.2,494.3 511.2,496.8 510.3,500.1 511.7,504.2 512.8,507.4 512.4,510.3 510.8,510.7 509.6,508.6 507.8,505.4 508.0,503.0 506.2,501.2 505.2,501.0 503.2,501.6 501.3,500.1 498.6,500.3 496.0,500.5 496.5,502.8 494.2,502.6 491.9,501.8 488.3,501.6 486.6,502.4 483.6,504.4 482.2,506.0 482.3,509.2 478.3,506.0 476.5,503.4 474.9,501.4 472.9,501.4 471.7,503.0 469.4,501.8 465.9,497.2 462.8,497.2 462.8,498.3 457.7,498.3 451.2,495.8 447.1,495.8 444.8,492.6 440.9,491.5 438.6,487.0 437.5,484.3 435.2,480.4 434.3,478.4 434.5,474.6 434.0,472.7 434.9,468.5 434.9,464.2 433.6,458.5 437.5,460.9 437.0,456.9 436.3,456.1 434.0,454.2 430.4,451.9 428.7,450.0 427.8,447.1 425.1,444.2 423.7,441.1 421.6,438.1 419.8,434.9 417.5,431.6 414.5,428.3 411.0,427.3 407.4,423.8 403.0,423.1 398.6,422.4 395.0,420.2 391.5,423.1 388.8,425.6 385.6,425.9 386.2,420.2 387.9,418.8 384.4,421.3 382.6,425.6 381.4,428.3 377.3,432.6 373.8,435.9 370.2,438.1 365.8,440.2 362.6,440.8 365.8,438.4 369.4,436.5 372.9,433.3 375.5,429.0 376.1,427.3 372.9,428.0 368.5,427.6 367.6,423.8 363.7,423.1 361.7,420.2 360.5,416.6 362.3,412.8 364.9,411.2 368.5,409.6 369.4,406.0 365.8,405.6 361.4,406.0 359.6,403.9ZM435.9,458.5 432.2,457.4 427.3,452.5 428.7,451.7 432.6,453.6 435.2,456.4ZM422.5,448.5 418.9,443.3 421.1,442.4 421.4,445.6ZM384.8,430.3 380.9,432.0 382.5,433.9 384.6,432.3ZM549.4,460.6 553.0,452.2 556.0,449.7 556.2,453.6 559.7,456.1 560.6,458.2 561.1,460.9 559.7,463.2 556.2,462.4 555.3,460.6ZM545.5,396.5 542.9,403.9 539.3,401.8 534.9,398.3 535.8,403.9 541.1,410.0 536.7,412.0 533.2,409.2 538.5,415.8 534.0,415.8 528.7,412.8 524.3,406.8 518.1,406.8 516.3,403.1 523.4,401.8 525.2,395.2 525.2,388.2 516.3,379.6 503.9,378.1 496.8,372.6 503.9,360.8 516.3,363.9 530.5,375.4 535.8,385.7 544.7,392.9ZM500.4,402.6 503.9,399.6 506.6,400.5 511.9,408.0 510.1,410.0 505.7,411.2 502.2,409.2 500.0,406.8ZM507.5,412.8 510.1,412.8 512.8,415.8 509.2,415.4ZM518.1,389.1 521.6,389.1 521.6,393.8 518.1,394.3ZM447.3,381.7 454.3,388.2 463.2,387.2 470.3,386.7 475.6,383.2 473.8,369.8 450.8,363.9 445.5,369.8ZM478.3,385.7 484.5,387.7 485.3,383.2 480.9,380.7ZM559.7,385.7 559.7,396.1 561.5,401.8 563.3,407.2 565.9,413.9 568.6,418.8 573.0,421.0 576.5,423.5 578.3,422.0 580.1,415.8 582.2,408.0 583.6,402.2 588.0,399.6 590.7,397.0 595.1,392.4 599.6,390.1 606.6,388.2 610.2,383.2 615.5,369.8 559.7,357.7ZM361.4,441.4 358.7,444.5 355.2,446.2 356.1,444.2 359.6,442.4ZM351.6,447.1 348.1,448.0 344.6,448.5 341.0,449.1 339.2,449.4 342.8,448.0 348.1,447.1ZM959.9,445.6 962.6,446.5 960.8,447.4Z"/>
<path fill="#edf0f4" d="M447.1,495.8 449.0,499.9 450.8,503.0 452.2,505.0 450.8,505.4 453.5,507.6 455.8,510.9 457.0,512.3 459.3,514.2 459.8,515.0 460.7,514.0 459.1,512.3 457.4,509.0 455.6,506.0 454.0,503.4 452.0,501.0 451.2,497.9 451.2,497.2 454.0,498.5 455.2,501.4 457.9,505.0 460.5,508.0 462.3,510.3 465.9,514.2 467.6,517.7 467.6,519.8 469.8,522.2 473.5,524.3 477.4,526.1 481.8,528.1 486.2,527.6 488.9,528.9 491.2,530.7 493.3,531.8 496.0,532.7 499.2,533.4 499.5,534.4 502.2,536.5 502.7,538.0 502.5,538.9 504.8,539.8 506.2,541.4 507.7,542.3 509.8,543.2 511.9,543.7 512.8,542.1 513.7,540.8 516.0,542.1 516.5,543.9 517.4,545.1 517.2,546.9 517.7,549.9 517.2,552.0 514.9,553.8 512.8,555.2 512.6,556.6 511.7,558.4 511.2,560.7 513.0,561.3 512.3,562.7 510.5,565.0 510.7,567.3 513.0,568.7 514.6,571.2 516.0,574.4 517.7,578.2 519.3,581.5 521.3,584.1 525.2,586.3 528.0,587.9 530.0,589.8 530.1,594.7 529.8,599.5 529.6,603.3 528.7,608.3 527.8,612.3 527.7,618.6 527.5,619.6 525.9,623.9 524.8,627.2 524.3,629.5 523.9,634.0 523.9,638.2 523.4,643.5 520.8,651.1 521.6,659.1 524.3,666.2 528.7,670.0 533.3,665.9 532.3,661.9 534.9,657.8 537.6,652.4 534.9,648.5 538.5,646.0 539.3,642.3 541.7,639.9 539.3,638.7 539.3,636.3 542.9,636.6 544.1,635.2 544.3,631.5 545.5,631.7 550.0,631.0 552.6,629.5 554.0,625.9 553.2,623.9 550.9,621.3 551.0,620.7 552.1,621.8 554.9,622.6 557.2,622.6 559.9,620.3 562.2,616.9 564.1,614.4 566.3,611.1 568.4,608.3 568.4,605.3 569.5,603.0 572.5,600.4 575.3,599.1 578.0,598.5 580.1,598.3 581.8,596.6 582.2,594.7 584.0,591.8 585.0,588.1 585.4,583.5 586.3,579.9 588.4,577.1 589.8,575.3 592.5,572.6 592.8,569.2 591.9,565.9 588.9,565.2 586.3,563.2 583.6,561.6 580.1,561.6 576.0,561.1 573.0,558.4 569.5,557.9 568.6,557.2 565.9,555.8 565.0,553.5 563.8,549.6 562.4,548.0 559.2,546.5 557.1,546.2 553.2,546.0 550.9,543.9 548.2,541.7 546.8,540.7 544.8,538.9 543.8,537.6 540.2,538.5 537.6,537.8 534.0,538.0 533.2,536.7 530.5,534.9 530.1,536.2 527.8,537.4 527.7,537.1 528.2,534.5 527.0,534.9 524.7,536.5 522.0,536.9 520.8,537.8 520.6,539.8 518.5,542.4 517.4,541.2 514.6,539.6 511.4,540.7 509.2,540.3 508.2,539.6 506.6,538.0 506.2,537.1 506.1,534.4 506.8,531.6 507.1,529.8 504.8,528.3 502.2,528.1 499.0,528.3 497.6,528.3 497.0,528.0 498.1,525.2 498.6,523.3 499.5,521.5 499.7,519.9 500.7,518.1 498.6,517.5 494.5,518.4 494.0,520.9 492.4,523.1 489.8,523.5 487.1,523.9 484.8,522.8 483.9,521.8 482.3,519.0 481.3,516.1 481.4,512.9 482.3,509.2 478.3,506.0 476.5,503.4 474.9,501.4 472.9,501.4 471.7,503.0 469.4,501.8 465.9,497.2 462.8,497.2 462.8,498.3 457.7,498.3 451.2,495.8ZM504.1,516.9 507.1,515.0 508.7,514.4 511.9,514.6 514.6,516.0 517.2,517.1 519.9,518.4 523.1,519.9 520.8,520.7 516.9,520.9 517.7,519.4 515.4,517.7 511.9,516.7 509.2,516.0 506.6,516.3ZM522.7,523.5 524.5,520.9 525.7,520.7 527.5,520.9 530.5,521.1 533.3,523.1 531.4,523.5 528.7,523.9 527.5,524.8 526.1,523.9ZM515.8,523.5 519.3,524.1 518.1,524.6 516.0,524.1ZM535.5,523.5 538.3,523.5 537.9,524.3 535.5,524.3ZM545.0,537.6 546.6,537.4 546.4,538.7 545.0,538.7ZM533.0,666.8 539.0,672.8 536.7,674.3 532.3,674.6 528.7,672.2 529.6,669.1ZM546.4,662.8 551.7,663.0 551.7,665.3 546.4,665.3Z"/>
<path fill="#ffffff" d="M491.4,463.0 493.3,460.9 496.0,459.6 497.7,457.4 501.3,457.7 503.9,459.8 504.5,462.4 504.8,463.5 502.2,463.2 499.5,463.5 498.1,461.1 496.8,462.4 494.2,463.2ZM499.3,475.3 498.8,472.2 499.5,468.5 498.6,468.3 500.4,466.3 501.6,465.0 503.9,464.8 503.0,467.3 501.6,469.8 501.5,472.2 501.3,474.6 500.4,475.3ZM504.5,465.0 506.6,464.5 509.2,464.5 511.0,465.0 512.8,466.5 513.1,467.8 511.0,468.3 510.1,466.8 509.8,469.8 508.5,472.2 507.5,470.3 506.1,470.5 506.8,467.5 505.7,466.0ZM506.8,475.3 507.5,474.4 510.1,473.2 513.7,472.4 514.7,472.4 512.8,474.1 509.8,475.8 508.0,475.8ZM513.1,471.5 514.0,470.5 517.2,469.8 519.3,469.3 519.5,471.0 517.2,471.5 514.6,471.5ZM783.7,385.7 782.5,392.9 780.2,397.0 777.0,396.1 777.5,397.9 781.9,399.2 784.6,395.6 786.0,391.5 786.9,385.7ZM791.7,385.7 792.2,392.0 794.0,392.9 794.3,389.6 793.5,385.7ZM863.2,549.2 863.8,548.9 865.5,547.4 863.6,546.4 862.9,546.0 861.3,544.2 859.9,546.0 858.1,547.8 856.3,548.7 854.6,551.0 851.7,552.2 851.0,553.8 849.9,553.8 848.5,553.1 848.7,554.0 850.1,555.1 852.4,554.9 853.7,554.0 856.1,554.2 857.7,553.3 858.3,551.7 859.0,550.6 859.3,549.2 862.0,549.0ZM862.0,541.7 863.9,540.3 866.1,536.5 865.5,538.3 863.4,541.0ZM873.1,575.0 874.9,573.0 876.7,571.9 879.9,571.6 878.5,572.6 875.8,574.1 874.0,575.0Z"/>
<path fill="none" stroke-linecap="round" d="M362.4,441.1 L360.0,443.0 M358.9,443.9 L355.9,445.3 M354.7,445.9 L352.4,446.8 M350.9,447.1 L348.1,447.7 M346.7,448.0 L344.2,448.5 M342.8,448.8 L340.3,449.4 M339.2,449.7 L337.5,450.3 M972.0,450.3 L970.2,449.4 M968.9,448.8 L967.9,448.5 M962.4,447.4 L960.1,445.9 M350.4,409.6 L353.4,411.2 L355.5,410.8 M358.2,422.4 L360.9,423.1 M348.3,421.3 L349.3,422.0 M352.7,432.6 L353.4,433.0 M418.4,439.9 L416.1,435.2 M417.2,433.3 L414.0,430.0 M419.3,436.5 L418.0,433.6 M378.2,521.5 L380.0,521.3 L378.9,522.4 M377.1,519.0 L378.0,519.2 M374.3,517.7 L375.2,517.9 M371.7,516.5 L372.2,516.7 M515.3,507.8 L516.5,507.8 M517.2,508.4 L517.9,509.2 M516.0,511.1 L516.9,512.3 M519.3,511.7 L520.2,512.5 M521.1,513.8 L521.8,514.6 M524.1,518.4 L525.0,518.6 M526.4,517.1 L527.7,517.1 M539.7,523.7 L540.4,523.5 M542.7,524.1 L543.2,525.4 M544.8,525.9 L545.2,527.4 M545.5,528.9 L545.9,529.2 M546.3,530.2 L546.6,530.9 M546.4,531.8 L546.1,533.1 M545.2,535.1 L545.4,534.9 M548.9,533.1 L549.1,533.3 M530.7,534.4 L532.6,535.1 M492.4,557.4 L493.5,558.2 M494.4,557.5 L496.0,558.1 M510.3,521.8 L510.8,521.8 M609.8,526.1 L610.4,526.5 M612.5,529.4 L613.0,530.0 M611.2,530.0 L611.4,530.2 M613.7,527.6 L614.1,528.0 M731.1,577.5 L731.5,577.9 M733.1,578.4 L733.3,578.6 M734.3,579.5 L734.5,579.7 M752.4,594.7 L753.1,595.1 M756.1,593.2 L756.6,593.5 M749.2,534.4 L750.8,534.4 M666.0,556.1 L666.3,556.5 M667.6,553.8 L667.6,554.0 M669.7,550.3 L670.2,550.8 M624.3,495.1 L624.9,495.4 M641.7,415.1 L642.6,416.2 M651.8,421.3 L652.3,423.5 M648.6,426.3 L649.7,426.9 M641.7,429.3 L643.3,430.3 M642.9,432.0 L643.8,433.0 M604.3,482.5 L605.0,482.5 M608.8,484.3 L609.8,484.3 M913.0,468.8 L914.8,467.3 M916.5,466.3 L918.3,465.0 M920.1,464.2 L921.3,463.2 M923.6,462.2 L925.4,459.6 M928.0,456.1 L930.3,453.3 M948.4,438.7 L948.9,439.9 M880.6,508.6 L881.5,507.6 M883.4,504.6 L883.9,504.2 M885.4,500.1 L885.7,500.3 M874.2,512.1 L874.6,512.1 M878.1,494.1 L879.2,493.7 M881.6,490.9 L881.6,490.7 M826.7,552.6 L828.0,554.5 M829.1,557.2 L830.1,559.5 M830.8,560.4 L832.2,562.0 M824.3,551.9 L825.0,552.4 M841.4,559.5 L843.2,561.8 M845.2,561.4 L846.1,562.0 M839.1,554.9 L839.7,555.2 M845.7,549.6 L846.2,549.9 M818.6,532.5 L819.0,535.8 M818.2,537.6 L818.4,537.8 M820.4,543.9 L820.7,544.6 M886.2,571.2 L887.5,569.4 M892.1,566.9 L892.8,568.4 M877.4,570.3 L878.6,570.1 M874.4,571.4 L875.8,571.2 M871.9,565.5 L872.6,566.2 M874.6,559.7 L876.3,559.8 M877.4,559.8 L878.1,559.8 M880.0,559.1 L881.3,559.5 M884.7,560.0 L885.5,560.2 M876.5,550.3 L876.9,550.6 M878.8,548.9 L879.0,549.6 M866.9,546.2 L869.2,546.0 M870.3,519.8 L870.5,519.6 M894.4,557.9 L896.0,558.8 M894.9,559.7 L896.7,559.8 M910.7,532.7 L911.0,532.4 M892.6,543.3 L892.8,543.7 M914.8,560.2 L915.5,560.4 M920.1,573.4 L921.5,573.5 M924.5,572.6 L925.9,573.0 M925.9,576.8 L927.5,577.1 M951.8,610.3 L951.9,610.5 M348.8,580.8 L350.6,581.5 M344.0,594.9 L344.6,595.1 M389.5,588.3 L390.2,588.5 M947.9,575.7 L948.8,575.9 M950.0,577.3 L950.2,577.5 M936.0,615.4 L936.2,615.6 M896.3,581.3 L896.9,582.0 M885.2,577.0 L887.0,577.3 M897.0,624.4 L898.8,624.8 M909.3,633.5 L909.6,634.0 M916.5,633.5 L917.1,634.5 M901.1,586.3 L901.8,586.4"/>
</g>
<g stroke="#5c5c5c" stroke-width="0.9" stroke-linejoin="round"><path d="M680.50,460.40 L680.50,429.20 A31.20,31.20 0 1 1 666.05,488.05 Z" fill="#59a14f"/><path d="M680.50,460.40 L666.05,488.05 A31.20,31.20 0 0 1 656.88,480.79 Z" fill="#eeeeee"/><path d="M680.50,460.40 L656.88,480.79 A31.20,31.20 0 0 1 680.50,429.20 Z" fill="#e15759"/></g>
<g stroke="#5c5c5c" stroke-width="0.9" stroke-linejoin="round"><path d="M465.60,447.90 L465.60,431.60 A16.30,16.30 0 0 1 467.59,464.08 Z" fill="#59a14f"/><path d="M465.60,447.90 L467.59,464.08 A16.30,16.30 0 0 1 459.05,462.83 Z" fill="#eeeeee"/><path d="M465.60,447.90 L459.05,462.83 A16.30,16.30 0 0 1 465.60,431.60 Z" fill="#e15759"/></g>
<g stroke="#5c5c5c" stroke-width="0.9" stroke-linejoin="round"><path d="M823.10,417.90 L823.10,402.80 A15.10,15.10 0 1 1 818.43,432.26 Z" fill="#59a14f"/><path d="M823.10,417.90 L818.43,432.26 A15.10,15.10 0 0 1 813.19,429.30 Z" fill="#eeeeee"/><path d="M823.10,417.90 L813.19,429.30 A15.10,15.10 0 0 1 823.10,402.80 Z" fill="#e15759"/></g>
<g stroke="#5c5c5c" stroke-width="0.9" stroke-linejoin="round"><path d="M838.40,489.00 L838.40,473.95 A15.05,15.05 0 0 1 849.62,499.03 Z" fill="#59a14f"/><path d="M838.40,489.00 L849.62,499.03 A15.05,15.05 0 0 1 841.14,503.80 Z" fill="#eeeeee"/><path d="M838.40,489.00 L841.14,503.80 A15.05,15.05 0 1 1 838.40,473.95 Z" fill="#e15759"/></g>
<g stroke="#5c5c5c" stroke-width="0.9" stroke-linejoin="round"><path d="M778.20,496.90 L778.20,490.00 A6.90,6.90 0 0 1 784.65,499.34 Z" fill="#59a14f"/><path d="M778.20,496.90 L784.65,499.34 A6.90,6.90 0 0 1 781.12,503.15 Z" fill="#eeeeee"/><path d="M778.20,496.90 L781.12,503.15 A6.90,6.90 0 1 1 778.20,490.00 Z" fill="#e15759"/></g>
<g stroke="#5c5c5c" stroke-width="0.9" stroke-linejoin="round"><path d="M728.80,504.40 L728.80,495.30 A9.10,9.10 0 0 1 731.91,512.95 Z" fill="#59a14f"/><path d="M728.80,504.40 L731.91,512.95 A9.10,9.10 0 0 1 728.24,513.48 Z" fill="#eeeeee"/><path d="M728.80,504.40 L728.24,513.48 A9.10,9.10 0 0 1 728.80,495.30 Z" fill="#e15759"/></g>
<g stroke="#5c5c5c" stroke-width="0.9" stroke-linejoin="round"><path d="M702.00,554.20 L702.00,545.40 A8.80,8.80 0 0 1 702.77,562.97 Z" fill="#59a14f"/><path d="M702.00,554.20 L702.77,562.97 A8.80,8.80 0 0 1 699.65,562.68 Z" fill="#eeeeee"/><path d="M702.00,554.20 L699.65,562.68 A8.80,8.80 0 0 1 702.00,545.40 Z" fill="#e15759"/></g>
<g stroke="#5c5c5c" stroke-width="0.9" stroke-linejoin="round"><path d="M553.20,575.30 L553.20,566.65 A8.65,8.65 0 0 1 554.40,583.87 Z" fill="#59a14f"/><path d="M553.20,575.30 L554.40,583.87 A8.65,8.65 0 0 1 552.00,583.87 Z" fill="#eeeeee"/><path d="M553.20,575.30 L552.00,583.87 A8.65,8.65 0 0 1 553.20,566.65 Z" fill="#e15759"/></g>
<g stroke="#5c5c5c" stroke-width="0.9" stroke-linejoin="round"><path d="M891.40,601.50 L891.40,593.00 A8.50,8.50 0 0 1 892.14,609.97 Z" fill="#59a14f"/><path d="M891.40,601.50 L892.14,609.97 A8.50,8.50 0 0 1 889.92,609.87 Z" fill="#eeeeee"/><path d="M891.40,601.50 L889.92,609.87 A8.50,8.50 0 0 1 891.40,593.00 Z" fill="#e15759"/></g>
<g font-family="'Liberation Sans', sans-serif" font-weight="bold" font-size="11" fill="#000000">
<text x="406.0" y="477.0" textLength="119.0" lengthAdjust="spacingAndGlyphs">America Settentrionale</text>
<text x="635.3" y="504.6" textLength="89.0" lengthAdjust="spacingAndGlyphs">UE 27 post Brexit</text>
<text x="768.6" y="445.6" textLength="108.4" lengthAdjust="spacingAndGlyphs">Paesi Europei non UE</text>
<text x="692.3" y="526.8" textLength="72.1" lengthAdjust="spacingAndGlyphs">Medio Oriente</text>
<text x="802.8" y="516.8" textLength="70.5" lengthAdjust="spacingAndGlyphs">Asia Orientale</text>
<text x="687.2" y="575.7" textLength="29.9" lengthAdjust="spacingAndGlyphs">Africa</text>
<text x="480.0" y="596.5" textLength="145.5" lengthAdjust="spacingAndGlyphs">America Centro-meridionale</text>
<text x="831.5" y="622.7" textLength="119.9" lengthAdjust="spacingAndGlyphs">Oceania e altri territori</text>
</g>
<path d="M1158.5,617 V627.5 H1278" fill="none" stroke="#000" stroke-width="1"/>
<text x="1228.4" y="624" textLength="49.5" lengthAdjust="spacingAndGlyphs" font-family="'Liberation Sans', sans-serif" font-size="12.4" fill="#000">7500 km</text>
</svg>
</div>

<!-- colour legend -->
<div class="legend">
<div style="background:#f5f5f5"></div><div style="background:#f3f4f4"></div><div style="background:#f1f3f4"></div><div style="background:#edf0f4"></div><div style="background:#e8edf3"></div><div style="background:#cad7e7"></div><div style="background:#b4c8e0"></div><div style="background:#a4bcd9"></div><div style="background:#4a78ab"></div>
</div>

<!-- toolbar -->
<div class="toolbar">
<svg class="abs" style="left:0;top:0" width="1300" height="27" viewBox="0 700 1300 27">
  <path fill="#333" d="M38.05,712.83 h6.80 v1.25 h-6.80 z M40.83,710.05 h1.25 v6.80 h-1.25 z M35.00,708.90 h4.90 v1.10 h-4.90 z M36.90,707.00 h1.10 v4.90 h-1.10 z M35.00,716.90 h4.90 v1.10 h-4.90 z M36.90,715.00 h1.10 v4.90 h-1.10 z M43.00,708.90 h4.90 v1.10 h-4.90 z M44.90,707.00 h1.10 v4.90 h-1.10 z M43.00,716.90 h4.90 v1.10 h-4.90 z M44.90,715.00 h1.10 v4.90 h-1.10 z M39.90,705.75 h3.10 v1.30 h-3.10 z M40.80,704.85 h1.30 v3.10 h-1.30 z M39.90,719.85 h3.10 v1.30 h-3.10 z M40.80,718.95 h1.30 v3.10 h-1.30 z M32.85,712.80 h3.10 v1.30 h-3.10 z M33.75,711.90 h1.30 v3.10 h-1.30 z M46.95,712.80 h3.10 v1.30 h-3.10 z M47.85,711.90 h1.30 v3.10 h-1.30 z"/>
  <g fill="none" stroke="#c6c6c6" stroke-width="1.3" stroke-linecap="round" stroke-linejoin="round">
    <path d="M920.5,710.5 H929.5 A5.6,5.6 0 0 1 929.5,721.7 H922.5 M924.3,706.6 L920.3,710.5 L924.3,714.3"/>
    <path d="M975.8,710.5 H966.8 A5.6,5.6 0 0 0 966.8,721.7 H973.8 M972,706.6 L976,710.5 L972,714.3"/>
    <path d="M1002.5,710.5 H1010.5 A5.6,5.6 0 0 1 1010.5,721.7 H1004.5 M1006,706.6 L1002.3,710.5 L1006,714.3 M999.5,706.3 V714.5"/>
    <path d="M1050.5,710 H1040.5 A4.6,4.6 0 0 0 1040.5,719.2 H1047 A4.6,4.6 0 0 0 1051.6,714.8 M1047.8,707.2 L1050.8,710 L1047.8,712.8"/>
  </g>
  <path d="M1066.2,712.2 h6.8 l-3.4,4.2z" fill="#bdbdbd"/>
  <path d="M1095.5,707.5 V719.5" stroke="#bdbdbd" stroke-width="1" fill="none"/>
  <g fill="none" stroke="#4d4d4d" stroke-width="1.3" stroke-linejoin="round" stroke-linecap="round">
    <path d="M1126.5,716.3 H1122.7 V706.5 H1136.3 V716.3 H1132.5 M1129.5,711.5 V721.3 M1126.7,718.6 L1129.5,721.5 L1132.3,718.6"/>
    <rect x="1176.7" y="709.5" width="9" height="9" rx="1"/>
    <path d="M1173.9,709.8 V706.5 H1177.5 M1185,706.5 H1188.6 V709.8 M1188.6,718.2 V721.5 H1185 M1177.5,721.5 H1173.9 V718.2"/>
    <circle cx="1222.8" cy="709" r="2.6"/><circle cx="1213.8" cy="714.5" r="2.6"/><circle cx="1222.8" cy="720" r="2.6"/>
    <path d="M1216.1,713.1 L1220.5,710.4 M1216.1,715.9 L1220.5,718.6"/>
  </g>
  <path d="M1142.2,712 h7 l-3.5,4.4z" fill="#4d4d4d"/>
</svg>
</div>

</div>
</body>
</html>
